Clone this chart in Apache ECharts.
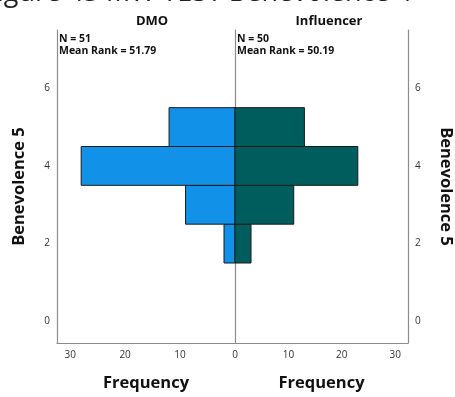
<!DOCTYPE html>
<html>
<head>
<meta charset="utf-8">
<script src="https://cdn.jsdelivr.net/npm/echarts@6/dist/echarts.min.js"></script>
<style>html,body{margin:0;padding:0;background:#fff}#c{width:455px;height:397px}</style>
</head>
<body>
<div id="c"></div>
<script>
// Data
var bins = [2, 3, 4, 5];
var dmoFreq = [2, 9, 28, 12];
var influencerFreq = [3, 11, 23, 13];
var groupNames = ['DMO', 'Influencer'];
var groupN = [51, 50];
var groupMeanRank = ['51.79', '50.19'];
var yTickValues = [0, 2, 4, 6];
var xTickValuesLeft = [0, 10, 20, 30];
var xTickValuesRight = [10, 20, 30];
var figureCaption = 'Figure 45 MW TEST Benevolence 4';
var yTitle = 'Benevolence 5';
var xTitle = 'Frequency';

var FONT = '"Open Sans", "Noto Sans", sans-serif';
var AXIS_COLOR = '#8c8c8c';
var Y_MIN = -0.56, Y_MAX = 7.5, X_MAX = 32.4;

function toData(freqs) {
  return bins.map(function (b, i) { return [freqs[i], b]; });
}

function renderBar(params, api) {
  var f = api.value(0), b = api.value(1);
  var p0 = api.coord([0, b + 0.5]);
  var p1 = api.coord([f, b - 0.5]);
  return {
    type: 'rect',
    shape: {
      x: Math.min(p0[0], p1[0]),
      y: Math.min(p0[1], p1[1]),
      width: Math.abs(p1[0] - p0[0]),
      height: Math.abs(p1[1] - p0[1])
    },
    style: api.style({ stroke: '#1a1a1a', lineWidth: 1 })
  };
}

var axisLabelStyle = { color: '#333', fontSize: 10, fontFamily: FONT };
var nameStyle = { color: '#111', fontSize: 16.5, fontWeight: 'bold', fontFamily: FONT };
var lineStyle = { color: AXIS_COLOR, width: 1.2 };

var chart = echarts.init(document.getElementById('c'), null, { renderer: 'canvas' });
chart.setOption({
  animation: false,
  backgroundColor: '#fff',
  title: [
    { text: groupNames[0], left: 147, top: 10, textAlign: 'center',
      textStyle: { fontSize: 13, fontWeight: 'bold', color: '#111', fontFamily: FONT } },
    { text: groupNames[1], left: 324, top: 10, textAlign: 'center',
      textStyle: { fontSize: 13, fontWeight: 'bold', color: '#111', fontFamily: FONT } }
  ],
  graphic: [
    { type: 'text', left: -17, top: -20,
      style: { text: figureCaption, font: '27px ' + FONT, fill: '#222' } },
    { type: 'text', left: 59, top: 33,
      style: { text: 'N = ' + groupN[0] + '\nMean Rank = ' + groupMeanRank[0],
        font: 'bold 10.5px ' + FONT, fill: '#111', lineHeight: 12 } },
    { type: 'text', left: 237, top: 33,
      style: { text: 'N = ' + groupN[1] + '\nMean Rank = ' + groupMeanRank[1],
        font: 'bold 10.5px ' + FONT, fill: '#111', lineHeight: 12 } }
  ],
  grid: [
    { left: 57, width: 178, top: 30, bottom: 51 },
    { left: 235, width: 178, top: 30, bottom: 51 }
  ],
  xAxis: [
    { gridIndex: 0, type: 'value', inverse: true, min: 0, max: X_MAX,
      name: xTitle, nameLocation: 'middle', nameGap: 32, nameTextStyle: nameStyle,
      axisLine: { show: true, onZero: false, lineStyle: lineStyle },
      axisTick: { show: false },
      splitLine: { show: false },
      axisLabel: Object.assign({ customValues: xTickValuesLeft, margin: 7 }, axisLabelStyle) },
    { gridIndex: 1, type: 'value', min: 0, max: X_MAX,
      name: xTitle, nameLocation: 'middle', nameGap: 32, nameTextStyle: nameStyle,
      axisLine: { show: true, onZero: false, lineStyle: lineStyle },
      axisTick: { show: false },
      splitLine: { show: false },
      axisLabel: Object.assign({ customValues: xTickValuesRight, margin: 7 }, axisLabelStyle) }
  ],
  yAxis: [
    { gridIndex: 0, type: 'value', position: 'left', min: Y_MIN, max: Y_MAX,
      name: yTitle, nameLocation: 'middle', nameGap: 29, nameTextStyle: nameStyle,
      axisLine: { show: true, onZero: false, lineStyle: lineStyle },
      axisTick: { show: false }, splitLine: { show: false },
      axisLabel: Object.assign({ customValues: yTickValues, margin: 7 }, axisLabelStyle) },
    { gridIndex: 0, type: 'value', position: 'right', min: Y_MIN, max: Y_MAX,
      axisLine: { show: true, onZero: false, lineStyle: lineStyle },
      axisTick: { show: false }, splitLine: { show: false }, axisLabel: { show: false } },
    { gridIndex: 1, type: 'value', position: 'right', min: Y_MIN, max: Y_MAX,
      name: yTitle, nameLocation: 'middle', nameGap: 29, nameRotate: -90, nameTextStyle: nameStyle,
      axisLine: { show: true, onZero: false, lineStyle: lineStyle },
      axisTick: { show: false }, splitLine: { show: false },
      axisLabel: Object.assign({ customValues: yTickValues, margin: 7 }, axisLabelStyle) }
  ],
  series: [
    { name: groupNames[0], type: 'custom', xAxisIndex: 0, yAxisIndex: 0,
      renderItem: renderBar, encode: { x: 0, y: 1 },
      itemStyle: { color: '#1192e8' }, data: toData(dmoFreq), z: 2 },
    { name: groupNames[1], type: 'custom', xAxisIndex: 1, yAxisIndex: 2,
      renderItem: renderBar, encode: { x: 0, y: 1 },
      itemStyle: { color: '#005d5d' }, data: toData(influencerFreq), z: 2 }
  ]
});
</script>
</body>
</html>
